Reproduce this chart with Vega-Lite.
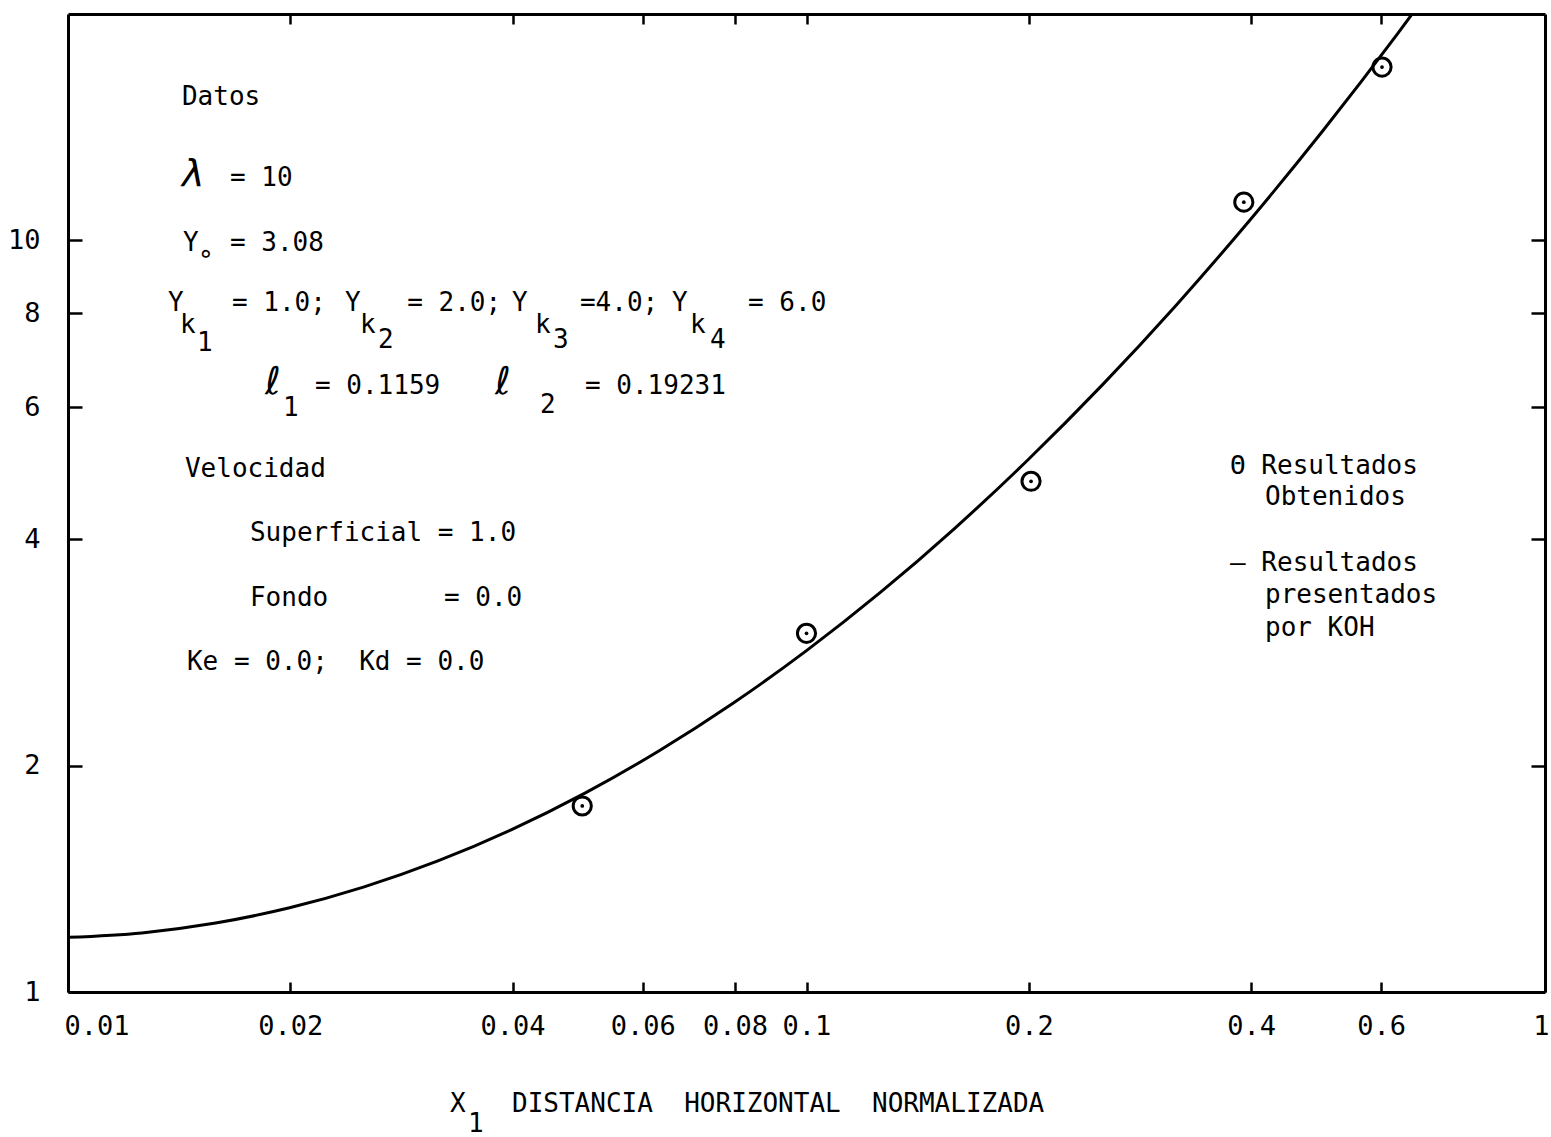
{
  "$schema": "https://vega.github.io/schema/vega-lite/v6.json",
  "autosize": {"type": "none"},
  "padding": {"left": 68, "top": 14, "right": 6, "bottom": 145},
  "width": 1477,
  "height": 978,
  "background": "white",
  "config": {
    "view": {"stroke": null},
    "axis": {
      "labelFont": "DejaVu Sans Mono",
      "labelFontSize": 27,
      "labelColor": "black",
      "domainColor": "black",
      "domainWidth": 3,
      "tickColor": "black",
      "tickWidth": 2.5,
      "grid": false,
      "title": null
    }
  },
  "datasets": {
    "curve": [
      {"x": 0.01, "y": 1.1822},
      {"x": 0.012589, "y": 1.1985},
      {"x": 0.015849, "y": 1.2352},
      {"x": 0.019953, "y": 1.2942},
      {"x": 0.025119, "y": 1.3786},
      {"x": 0.031623, "y": 1.4927},
      {"x": 0.039811, "y": 1.6433},
      {"x": 0.050119, "y": 1.8391},
      {"x": 0.063096, "y": 2.0922},
      {"x": 0.079433, "y": 2.4197},
      {"x": 0.1, "y": 2.845},
      {"x": 0.125893, "y": 3.4005},
      {"x": 0.158489, "y": 4.1326},
      {"x": 0.199526, "y": 5.1054},
      {"x": 0.251189, "y": 6.4118},
      {"x": 0.316228, "y": 8.186},
      {"x": 0.398107, "y": 10.626},
      {"x": 0.501187, "y": 14.02},
      {"x": 0.630957, "y": 18.806},
      {"x": 0.707946, "y": 21.92}
    ],
    "obtained": [
      {"x": 0.0497, "y": 1.768},
      {"x": 0.1, "y": 3.0},
      {"x": 0.2014, "y": 4.78},
      {"x": 0.391, "y": 11.24},
      {"x": 0.6016, "y": 17.0}
    ],
    "notes": [
      {"x": 0.014266, "y": 15.509, "label": "Datos"},
      {"x": 0.01657, "y": 12.106, "label": "= 10"},
      {"x": 0.014311, "y": 9.918, "label": "Y"},
      {"x": 0.015, "y": 9.6, "label": "∘"},
      {"x": 0.01657, "y": 9.918, "label": "= 3.08"},
      {"x": 0.013656, "y": 8.252, "label": "Y"},
      {"x": 0.01418, "y": 7.716, "label": "k"},
      {"x": 0.01495, "y": 7.302, "label": "1"},
      {"x": 0.016674, "y": 8.252, "label": "= 1.0;"},
      {"x": 0.023718, "y": 8.252, "label": "Y"},
      {"x": 0.024855, "y": 7.716, "label": "k"},
      {"x": 0.02629, "y": 7.369, "label": "2"},
      {"x": 0.0288, "y": 8.252, "label": "= 2.0;"},
      {"x": 0.03992, "y": 8.252, "label": "Y"},
      {"x": 0.042889, "y": 7.716, "label": "k"},
      {"x": 0.045369, "y": 7.369, "label": "3"},
      {"x": 0.049343, "y": 8.252, "label": "=4.0;"},
      {"x": 0.065759, "y": 8.252, "label": "Y"},
      {"x": 0.069555, "y": 7.716, "label": "k"},
      {"x": 0.074013, "y": 7.369, "label": "4"},
      {"x": 0.083333, "y": 8.252, "label": "= 6.0"},
      {"x": 0.019546, "y": 5.983, "label": "1"},
      {"x": 0.0216, "y": 6.401, "label": "= 0.1159"},
      {"x": 0.043562, "y": 6.038, "label": "2"},
      {"x": 0.050127, "y": 6.401, "label": "= 0.19231"},
      {"x": 0.0144, "y": 4.963, "label": "Velocidad"},
      {"x": 0.017636, "y": 4.08, "label": "Superficial = 1.0"},
      {"x": 0.017636, "y": 3.343, "label": "Fondo"},
      {"x": 0.032293, "y": 3.343, "label": "= 0.0"},
      {"x": 0.01449, "y": 2.748, "label": "Ke = 0.0;\u00a0\u00a0Kd = 0.0"},
      {"x": 0.37453, "y": 5.009, "label": "Θ Resultados"},
      {"x": 0.41768, "y": 4.556, "label": "Obtenidos"},
      {"x": 0.37453, "y": 3.722, "label": "— Resultados"},
      {"x": 0.41768, "y": 3.374, "label": "presentados"},
      {"x": 0.41768, "y": 3.05, "label": "por KOH"},
      {"x": 0.032903, "y": 0.7096, "label": "X"},
      {"x": 0.0348, "y": 0.6675, "label": "1"},
      {"x": 0.03992, "y": 0.7096, "label": "DISTANCIA\u00a0\u00a0HORIZONTAL\u00a0\u00a0NORMALIZADA"}
    ],
    "symbols": [
      {"x": 0.014266, "y": 12.2, "label": "λ"},
      {"x": 0.018479, "y": 6.45, "label": "ℓ"},
      {"x": 0.037861, "y": 6.45, "label": "ℓ"}
    ]
  },
  "layer": [
    {
      "data": {"name": "curve"},
      "mark": {"type": "line", "color": "black", "strokeWidth": 3, "interpolate": "monotone", "clip": true},
      "encoding": {
        "x": {
          "field": "x", "type": "quantitative",
          "scale": {"type": "log", "domain": [0.01, 1], "nice": false},
          "axis": {
            "orient": "bottom",
            "values": [0.01, 0.02, 0.04, 0.06, 0.08, 0.1, 0.2, 0.4, 0.6, 1],
            "labelExpr": "'' + datum.value",
            "tickSize": -10,
            "labelPadding": 31,
            "labelAlign": {"condition": [{"test": "datum.value <= 0.01", "value": "left"}, {"test": "datum.value >= 1", "value": "right"}], "value": "center"},
            "labelOffset": {"condition": [{"test": "datum.value <= 0.01", "value": -4}, {"test": "datum.value >= 1", "value": 4}], "value": 0}
          }
        },
        "y": {
          "field": "y", "type": "quantitative",
          "scale": {"type": "log", "domain": [1, 20], "nice": false},
          "axis": {
            "orient": "left",
            "values": [1, 2, 4, 6, 8, 10],
            "labelExpr": "'' + datum.value",
            "tickSize": -14,
            "labelPadding": 42
          }
        }
      }
    },
    {
      "data": {"name": "obtained"},
      "mark": {"type": "point", "shape": "circle", "filled": false, "color": "black", "opacity": 1, "strokeWidth": 3, "size": 330},
      "encoding": {
        "x": {
          "field": "x", "type": "quantitative",
          "axis": {
            "orient": "top",
            "values": [0.02, 0.04, 0.06, 0.08, 0.1, 0.2, 0.4, 0.6],
            "labels": false,
            "tickSize": -10
          }
        },
        "y": {
          "field": "y", "type": "quantitative",
          "axis": {
            "orient": "right",
            "values": [2, 4, 6, 8, 10],
            "labels": false,
            "tickSize": -14
          }
        }
      }
    },
    {
      "data": {"name": "obtained"},
      "mark": {"type": "point", "shape": "circle", "filled": true, "color": "black", "opacity": 1, "size": 14},
      "encoding": {
        "x": {"field": "x", "type": "quantitative", "axis": null},
        "y": {"field": "y", "type": "quantitative", "axis": null}
      }
    },
    {
      "data": {"name": "notes"},
      "mark": {"type": "text", "font": "DejaVu Sans Mono", "fontSize": 26, "align": "left", "baseline": "middle", "color": "black"},
      "encoding": {
        "x": {"field": "x", "type": "quantitative", "axis": null},
        "y": {"field": "y", "type": "quantitative", "axis": null},
        "text": {"field": "label"}
      }
    },
    {
      "data": {"name": "symbols"},
      "mark": {"type": "text", "font": "DejaVu Sans", "fontSize": 38, "fontStyle": "italic", "align": "left", "baseline": "middle", "color": "black"},
      "encoding": {
        "x": {"field": "x", "type": "quantitative", "axis": null},
        "y": {"field": "y", "type": "quantitative", "axis": null},
        "text": {"field": "label"}
      }
    }
  ],
  "resolve": {"axis": {"x": "independent", "y": "independent"}}
}
